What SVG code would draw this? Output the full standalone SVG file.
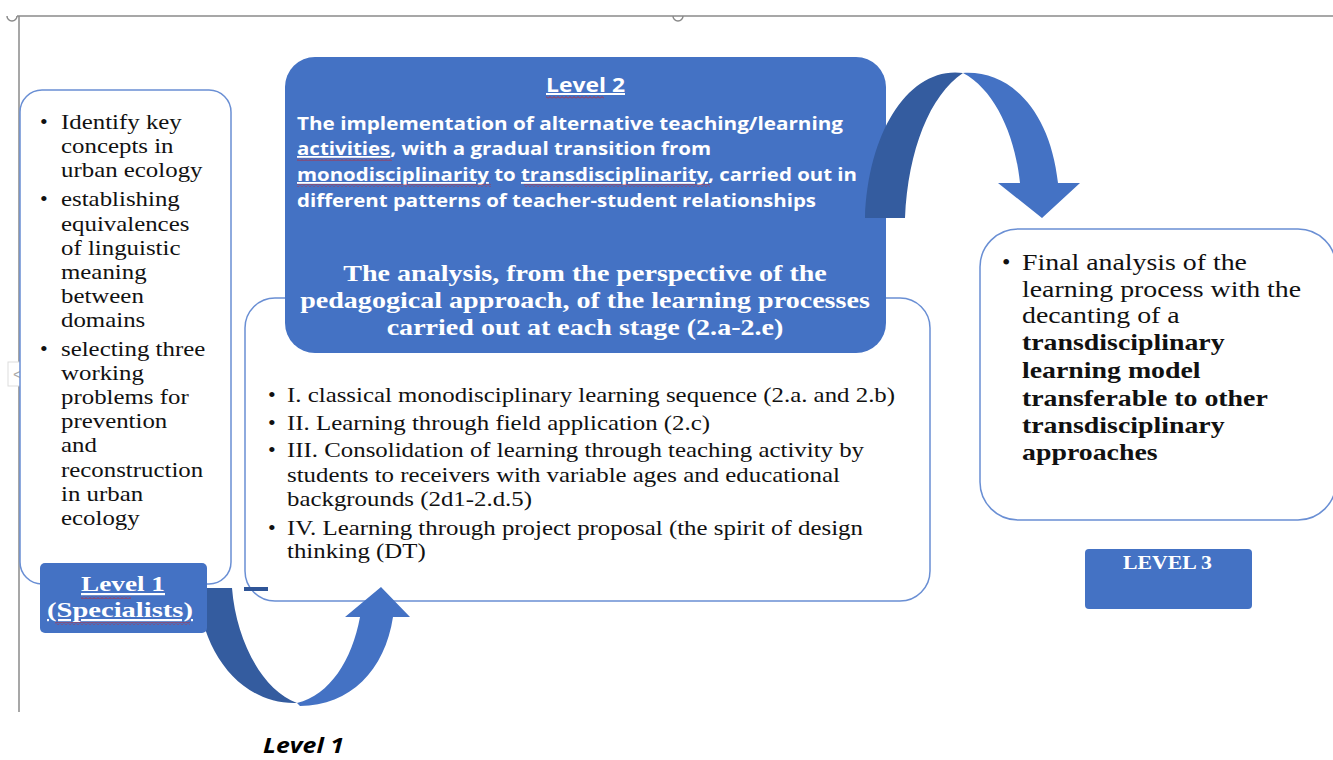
<svg xmlns="http://www.w3.org/2000/svg" width="1333" height="760" viewBox="0 0 1333 760">
<style>
.frame{fill:none;stroke:#8a8a8a;stroke-width:1.5}
.box{fill:#fff;stroke:#6a8fd4;stroke-width:1.5}
.blue{fill:#4472c4}
.dark{fill:#345c9f}
.serif{font-family:"Liberation Serif","Times New Roman",serif;fill:#111}
.wb{font-family:"Liberation Serif","Times New Roman",serif;fill:#fff;font-weight:bold}
.sans{font-family:"Open Sans","Liberation Sans",sans-serif;fill:#fff;font-weight:bold}
.b{font-weight:bold}
.ul{text-decoration:underline}
</style>
<defs>
<pattern id="sq" width="4" height="3" patternUnits="userSpaceOnUse">
<path d="M0,2.5 L2,0.5 L4,2.5" fill="none" stroke="#d02020" stroke-width="0.8"/>
</pattern>
</defs>
<rect width="1333" height="760" fill="#fff"/>
<!-- frame -->
<g id="frame">
<line class="frame" x1="17" y1="16" x2="1333" y2="16"/>
<line class="frame" x1="19" y1="16" x2="19" y2="712"/>
<path class="frame" d="M7,16 A5,5 0 0 0 17,16"/>
<path class="frame" d="M673,16 A5,5 0 0 0 683,16"/>
<rect x="8" y="362" width="22" height="24" fill="#fff" stroke="#ddd" stroke-width="1"/>
<text x="13" y="380" font-family="Liberation Sans, sans-serif" font-size="16" fill="#aaa">&lt;</text>
<path class="frame" d="M1333,368 A6,6 0 0 0 1333,382"/>
</g>

<!-- Level 2 sub box -->
<g id="level2-list">
<rect class="box" x="245" y="298" width="685" height="303" rx="30"/>
<g class="serif" font-size="22">
<text x="268" y="402">•</text>
<text x="268" y="430">•</text>
<text x="268" y="457">•</text>
<text x="268" y="535">•</text>
</g>
<g class="serif" font-size="22" transform="translate(287 0) scale(1.13 1)">
<text x="0" y="402">I. classical monodisciplinary learning sequence (2.a. and 2.b)</text>
<text x="0" y="430">II. Learning through field application (2.c)</text>
<text x="0" y="457">III. Consolidation of learning through teaching activity by</text>
<text x="0" y="482">students to receivers with variable ages and educational</text>
<text x="0" y="506">backgrounds (2d1-2.d.5)</text>
<text x="0" y="535">IV. Learning through project proposal (the spirit of design</text>
<text x="0" y="558">thinking (DT)</text>
</g>
<rect x="244" y="587" width="24" height="4" fill="#2f5597"/>
</g>

<!-- Level 1 list box -->
<g id="level1-list">
<rect class="box" x="20" y="90" width="211" height="494" rx="22"/>
<g class="serif" font-size="22">
<text x="40" y="129">•</text>
<text x="40" y="206">•</text>
<text x="40" y="356">•</text>
</g>
<g class="serif" font-size="22" transform="translate(61 0) scale(1.13 1)">
<text x="0" y="129">Identify key</text>
<text x="0" y="153">concepts in</text>
<text x="0" y="177">urban ecology</text>
<text x="0" y="206"> establishing</text>
<text x="0" y="231">equivalences</text>
<text x="0" y="255">of linguistic</text>
<text x="0" y="279">meaning</text>
<text x="0" y="303">between</text>
<text x="0" y="327">domains</text>
<text x="0" y="356">selecting three</text>
<text x="0" y="380">working</text>
<text x="0" y="404">problems for</text>
<text x="0" y="428">prevention</text>
<text x="0" y="452">and</text>
<text x="0" y="477">reconstruction</text>
<text x="0" y="501">in urban</text>
<text x="0" y="525">ecology</text>
</g>
</g>

<!-- Level 3 box -->
<g id="level3-box">
<rect class="box" x="980" y="229" width="356" height="291" rx="38"/>
<text class="serif" x="1002" y="270" font-size="24">•</text>
<g class="serif" font-size="24" transform="translate(1022 0) scale(1.16 1)">
<text x="0" y="270">Final analysis of the</text>
<text x="0" y="297">learning process with the</text>
<text x="0" y="323">decanting of a</text>
<text x="0" y="350" class="b">transdisciplinary</text>
<text x="0" y="378" class="b">learning model</text>
<text x="0" y="406" class="b">transferable to other</text>
<text x="0" y="433" class="b">transdisciplinary</text>
<text x="0" y="460" class="b">approaches</text>
</g>
</g>

<!-- Level 2 blue box -->
<g id="level2-box">
<rect class="blue" x="285" y="57" width="601" height="296" rx="30"/>
<text class="sans ul" x="546" y="92" font-size="20" textLength="79" lengthAdjust="spacingAndGlyphs">Level 2</text>
<rect x="546" y="96" width="58" height="3" fill="url(#sq)"/>
<g class="sans" font-size="18">
<text x="297" y="130" textLength="546" lengthAdjust="spacingAndGlyphs">The implementation of alternative teaching/learning</text>
<text x="297" y="155" textLength="414" lengthAdjust="spacingAndGlyphs"><tspan class="ul">activities</tspan>, with a gradual transition from</text>
<text x="297" y="181" textLength="560" lengthAdjust="spacingAndGlyphs"><tspan class="ul">monodisciplinarity</tspan> to <tspan class="ul">transdisciplinarity</tspan>, carried out in</text>
<text x="297" y="207" textLength="519" lengthAdjust="spacingAndGlyphs">different patterns of teacher-student relationships</text>
</g>
<rect x="297" y="158" width="95" height="3" fill="url(#sq)"/>
<rect x="297" y="184" width="194" height="3" fill="url(#sq)"/>
<rect x="524" y="184" width="186" height="3" fill="url(#sq)"/>
<g class="wb" font-size="24" text-anchor="middle" transform="translate(585 0) scale(1.17 1)">
<text x="0" y="281">The analysis, from the perspective of the</text>
<text x="0" y="308">pedagogical approach, of the learning processes</text>
<text x="0" y="335">carried out at each stage (2.a-2.e)</text>
</g>
</g>

<!-- connectors -->
<g id="connectors">
<path class="dark" d="M198,588 L232,588 C236,640 262,690 297,703 C240,705 200,650 198,588 Z"/>
<path class="blue" d="M297,703 C330,695 352,660 360,617 L345,617 L381,587 L410,617 L393,617 C385,670 350,706 300,706 Z"/>
<path class="dark" d="M865,218 L905,218 C908,150 930,95 963,73 C910,66 868,130 865,218 Z"/>
<path class="blue" d="M963,73 C995,90 1015,135 1020,183 L998,183 L1042,218 L1080,183 L1058,183 C1050,110 1010,70 963,73 Z"/>
</g>

<!-- Level 1 label box -->
<g id="level1-label">
<rect class="blue" x="40" y="563" width="167" height="70" rx="5"/>
<g class="wb" font-size="22" text-anchor="middle">
<text class="ul" x="123" y="591" textLength="84" lengthAdjust="spacingAndGlyphs">Level 1</text>
<text class="ul" x="120" y="617" textLength="146" lengthAdjust="spacingAndGlyphs">(Specialists)</text>
</g>
<rect x="81" y="596" width="50" height="3" fill="url(#sq)"/>
<rect x="55" y="622" width="135" height="3" fill="url(#sq)"/>
</g>

<!-- Level 3 label box -->
<g id="level3-label">
<rect class="blue" x="1085" y="549" width="167" height="60" rx="4"/>
<text class="wb" x="1123" y="569" font-size="18" textLength="89" lengthAdjust="spacingAndGlyphs">LEVEL 3</text>
</g>

<text x="263" y="753" font-family="Open Sans, Liberation Sans, sans-serif" font-size="21" font-weight="bold" font-style="italic" fill="#000" textLength="81" lengthAdjust="spacingAndGlyphs">Level 1</text>
</svg>
